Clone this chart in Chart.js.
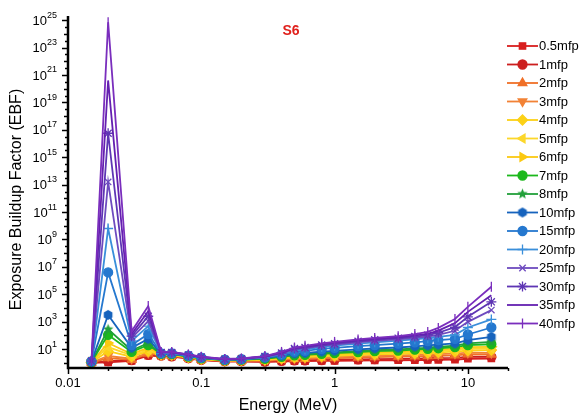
<!DOCTYPE html>
<html>
<head>
<meta charset="utf-8">
<script src="https://cdn.jsdelivr.net/npm/chart.js@4.4.1/dist/chart.umd.min.js"></script>
<style>
  body { margin: 0; background: #fff; }
</style>
</head>
<body>
<canvas id="ebf" width="581" height="417"></canvas>
<script>
// photon energies (MeV)
const energies = [0.015, 0.02, 0.03, 0.04, 0.05, 0.06, 0.08, 0.1, 0.15, 0.2, 0.3, 0.4, 0.5, 0.6, 0.8,
  1, 1.5, 2, 3, 4, 5, 6, 8, 10, 15];

// exposure buildup factors per penetration depth
const mfp05 = [1.01, 1.07, 1.41, 3.31, 3.16, 2.82, 2.09, 1.58, 1.26, 1.26, 1.17, 1.26, 1.32, 1.35, 1.38, 1.41, 1.48, 1.51, 1.55, 1.58, 1.62, 1.66, 1.74, 2.0, 2.09];
const mfp1 = [1.02, 1.32, 1.58, 3.8, 3.39, 3.02, 2.19, 1.66, 1.32, 1.32, 1.26, 1.41, 1.51, 1.55, 1.62, 1.7, 1.82, 1.86, 1.95, 2.04, 2.09, 2.19, 2.29, 2.75, 2.75];
const mfp2 = [1.05, 2.24, 1.66, 4.79, 3.63, 3.31, 2.29, 1.74, 1.38, 1.38, 1.41, 1.66, 1.86, 1.95, 2.14, 2.24, 2.45, 2.63, 2.82, 2.95, 3.16, 3.31, 3.55, 4.17, 4.07];
const mfp3 = [1.07, 3.16, 2.0, 5.62, 3.8, 3.55, 2.4, 1.82, 1.41, 1.45, 1.51, 1.86, 2.14, 2.24, 2.51, 2.69, 3.02, 3.24, 3.55, 3.8, 4.07, 4.37, 4.79, 5.62, 5.37];
const mfp4 = [1.1, 7.08, 2.82, 7.08, 3.98, 3.8, 2.51, 1.91, 1.48, 1.51, 1.66, 2.09, 2.51, 2.63, 3.02, 3.31, 3.8, 4.17, 4.57, 5.01, 5.5, 5.89, 6.61, 7.94, 8.51];
const mfp5 = [1.12, 14.1, 3.55, 8.91, 4.07, 3.98, 2.63, 2.0, 1.51, 1.58, 1.78, 2.29, 2.82, 2.95, 3.47, 3.8, 4.47, 5.01, 5.5, 6.17, 6.76, 7.41, 8.51, 10.5, 11.2];
const mfp6 = [1.15, 28.2, 4.47, 12.6, 4.27, 4.17, 2.75, 2.04, 1.55, 1.62, 1.91, 2.51, 3.16, 3.31, 3.98, 4.37, 5.25, 5.89, 6.61, 7.41, 8.32, 9.33, 11.0, 14.1, 14.8];
const mfp7 = [1.17, 112, 6.31, 20, 4.47, 4.37, 2.88, 2.14, 1.58, 1.7, 2.0, 2.75, 3.55, 3.8, 4.57, 5.13, 6.17, 7.08, 7.94, 9.12, 10.5, 11.7, 14.1, 19.5, 22.9];
const mfp8 = [1.2, 282, 7.94, 28.2, 4.57, 4.57, 3.02, 2.19, 1.62, 1.74, 2.14, 2.95, 3.98, 4.27, 5.25, 5.89, 7.24, 8.32, 9.55, 11.2, 12.6, 14.5, 17.8, 26.3, 33.9];
const mfp10 = [1.23, 3162, 12.6, 56.2, 4.79, 4.79, 3.16, 2.29, 1.66, 1.78, 2.29, 3.31, 4.79, 5.25, 6.61, 7.59, 9.55, 11.2, 13.2, 15.8, 18.6, 21.4, 26.3, 45.7, 79.4];
const mfp15 = [1.26, 3.98e6, 20, 126, 5.01, 5.01, 3.31, 2.4, 1.7, 1.86, 2.51, 3.98, 6.61, 7.59, 10.5, 12.6, 16.6, 20, 25.1, 31.6, 38, 45.7, 56.2, 117.5, 380];
const mfp20 = [1.29, 6.31e9, 39.8, 479, 5.25, 5.25, 3.47, 2.51, 1.74, 1.91, 2.63, 4.37, 8.32, 9.55, 14.1, 17.8, 25.1, 31.6, 41.7, 52.5, 63.1, 79.4, 112, 380, 1479];
const mfp25 = [1.32, 1.58e13, 63.1, 1096, 5.5, 5.5, 3.63, 2.57, 1.78, 1.95, 2.75, 4.79, 10, 11.5, 17.4, 21.9, 31.6, 39.8, 52.5, 67.6, 83.2, 112, 219, 977, 7079];
const mfp30 = [1.35, 5.62e16, 89.1, 2512, 5.75, 5.75, 3.8, 2.63, 1.82, 2.0, 2.88, 5.25, 11.2, 13.2, 20, 25.1, 37.2, 47.9, 63.1, 83.2, 105, 158, 398, 2291, 28200];
const mfp35 = [1.38, 3.98e20, 126, 5888, 6.03, 6.03, 3.98, 2.69, 1.86, 2.04, 3.02, 5.62, 12.6, 15.1, 22.9, 29.5, 43.7, 56.2, 74.1, 100, 132, 224, 794, 5248, 87100];
const mfp40 = [1.41, 7.08e24, 200, 13800, 6.31, 6.31, 4.17, 2.82, 1.91, 2.09, 3.16, 6.31, 13.2, 17.4, 26.3, 33.9, 51.3, 66.1, 89.1, 126, 182, 355, 1585, 12300, 354800];

const seriesLabels = ['0.5mfp', '1mfp', '2mfp', '3mfp', '4mfp', '5mfp', '6mfp', '7mfp', '8mfp',
  '10mfp', '15mfp', '20mfp', '25mfp', '30mfp', '35mfp', '40mfp'];
const seriesValues = [mfp05, mfp1, mfp2, mfp3, mfp4, mfp5, mfp6, mfp7, mfp8,
  mfp10, mfp15, mfp20, mfp25, mfp30, mfp35, mfp40];

const yTickExponents = [1, 3, 5, 7, 9, 11, 13, 15, 17, 19, 21, 23, 25];
const xTickValues = [0.01, 0.1, 1, 10];
const xTickLabels = ['0.01', '0.1', '1', '10'];

const colors = ['#d81e1e', '#cc1f1f', '#f07028', '#f28236', '#fcd116', '#fcd72a', '#fbc912',
  '#1cb81c', '#22a03a', '#1663bd', '#2578cf', '#3a8fda', '#6e4bbf', '#5e35b4', '#6420b0', '#7a2ebd'];

// filled polygon markers that Chart.js has no built-in style for
function polyMarker(color, r, n, inner) {
  const c = document.createElement('canvas');
  const s = Math.ceil(r * 2 + 2);
  c.width = c.height = s;
  const g = c.getContext('2d');
  g.fillStyle = color;
  g.beginPath();
  const steps = inner ? n * 2 : n;
  for (let i = 0; i < steps; i++) {
    const rad = inner && i % 2 ? r * inner : r;
    const a = -Math.PI / 2 + i * 2 * Math.PI / steps;
    g.lineTo(s / 2 + rad * Math.cos(a), s / 2 + rad * Math.sin(a));
  }
  g.closePath();
  g.fill();
  return c;
}

const markers = ['rect', 'circle', 'triangle', 'triangle', 'rectRot', 'triangle', 'triangle', 'circle',
  polyMarker(colors[8], 5.5, 5, 0.45), polyMarker(colors[9], 5, 6), 'circle', 'cross', 'crossRot', 'star', false, 'line'];
const rotations = [0, 0, 0, 180, 0, 270, 90, 0, 0, 0, 0, 0, 0, 0, 0, 90];
const radii = [4.5, 4.5, 5, 5, 5, 5, 5, 4.5, 5.5, 5, 4.5, 5, 4.5, 5, 0, 5];

const datasets = seriesLabels.map((label, i) => ({
  label: label,
  data: energies.map((e, j) => ({ x: e, y: seriesValues[i][j] })),
  borderColor: colors[i],
  backgroundColor: colors[i],
  pointBackgroundColor: colors[i],
  pointBorderColor: colors[i],
  pointStyle: markers[i],
  pointRotation: rotations[i],
  pointRadius: radii[i],
  pointBorderWidth: 1.3,
  borderWidth: 1.8,
  tension: 0,
  order: seriesLabels.length - i
}));

const axesPlugin = {
  id: 'axesPlugin',
  afterDraw(chart) {
    const { ctx, chartArea: area, scales: { x, y } } = chart;
    ctx.save();
    ctx.strokeStyle = '#000';
    ctx.fillStyle = '#000';

    // axis lines
    ctx.lineWidth = 2.5;
    ctx.beginPath();
    ctx.moveTo(area.left, area.top);
    ctx.lineTo(area.left, area.bottom + 1);
    ctx.lineTo(area.right, area.bottom + 1);
    ctx.stroke();

    // y ticks: every decade, odd ones labelled
    ctx.lineWidth = 1.5;
    for (let k = 0; k <= 25; k++) {
      const py = Math.round(y.getPixelForValue(Math.pow(10, k))) + 0.5;
      const len = k % 2 ? 6 : 4;
      ctx.beginPath();
      ctx.moveTo(area.left - len, py);
      ctx.lineTo(area.left, py);
      ctx.stroke();
      if (k < 25) {
        const pm = Math.round(y.getPixelForValue(Math.pow(10, k + 0.5))) + 0.5;
        ctx.beginPath();
        ctx.moveTo(area.left - 3, pm);
        ctx.lineTo(area.left, pm);
        ctx.stroke();
      }
    }
    yTickExponents.forEach(k => {
      const py = y.getPixelForValue(Math.pow(10, k));
      const exp = String(k);
      ctx.font = '9px "Liberation Sans", Arial, sans-serif';
      const ew = ctx.measureText(exp).width;
      const right = 57;
      ctx.textAlign = 'left';
      ctx.textBaseline = 'middle';
      ctx.fillText(exp, right - ew, py - 5);
      ctx.font = '13px "Liberation Sans", Arial, sans-serif';
      ctx.textAlign = 'right';
      ctx.fillText('10', right - ew, py + 1);
    });

    // x ticks: decades with 2..9 minor marks
    const bottom = area.bottom + 1;
    for (let d = 0.01; d < 20; d *= 10) {
      for (let m = 1; m <= 9; m++) {
        const v = d * m;
        if (v > 20) break;
        const px = Math.round(x.getPixelForValue(v)) + 0.5;
        ctx.beginPath();
        ctx.moveTo(px, bottom);
        ctx.lineTo(px, bottom + (m === 1 ? 6 : 3));
        ctx.stroke();
      }
    }
    ctx.font = '13px "Liberation Sans", Arial, sans-serif';
    ctx.textAlign = 'center';
    ctx.textBaseline = 'middle';
    xTickValues.forEach((v, i) => {
      ctx.fillText(xTickLabels[i], x.getPixelForValue(v), 383);
    });

    // axis titles
    ctx.font = '16px "Liberation Sans", Arial, sans-serif';
    ctx.fillText('Energy (MeV)', (area.left + area.right) / 2, 406);
    ctx.save();
    ctx.translate(17, (area.top + area.bottom) / 2 + 8);
    ctx.rotate(-Math.PI / 2);
    ctx.fillText('Exposure Buildup Factor (EBF)', 0, 0);
    ctx.restore();

    // panel tag
    ctx.fillStyle = '#e0201c';
    ctx.font = 'bold 14px "Liberation Sans", Arial, sans-serif';
    ctx.fillText('S6', 291, 31);

    // legend: line + marker + label
    chart.data.datasets.forEach((ds, i) => {
      const ly = 46 + i * 18.5;
      ctx.strokeStyle = ds.borderColor;
      ctx.fillStyle = ds.borderColor;
      ctx.lineWidth = 1.8;
      ctx.beginPath();
      ctx.moveTo(507, ly);
      ctx.lineTo(538, ly);
      ctx.stroke();
      if (ds.pointStyle) {
        ctx.lineWidth = 1.3;
        Chart.helpers.drawPoint(ctx, {
          pointStyle: ds.pointStyle,
          rotation: ds.pointRotation,
          radius: ds.pointRadius,
          borderWidth: 1.3
        }, 522.5, ly);
      }
      ctx.fillStyle = '#000';
      ctx.font = '13px "Liberation Sans", Arial, sans-serif';
      ctx.textAlign = 'left';
      ctx.textBaseline = 'middle';
      ctx.fillText(ds.label, 539, ly + 0.5);
    });
    ctx.restore();
  }
};

new Chart(document.getElementById('ebf'), {
  type: 'line',
  data: { datasets: datasets },
  options: {
    responsive: false,
    devicePixelRatio: 1,
    animation: false,
    events: [],
    layout: { padding: { top: 16, right: 73, left: 0, bottom: 0 } },
    plugins: { legend: { display: false }, tooltip: { enabled: false } },
    scales: {
      x: {
        type: 'logarithmic', min: 0.01, max: 20,
        grid: { display: false }, border: { display: false }, ticks: { display: false },
        afterFit: s => { s.height = 50; }
      },
      y: {
        type: 'logarithmic', min: 0.5, max: 2e25,
        grid: { display: false }, border: { display: false }, ticks: { display: false },
        afterFit: s => { s.width = 68; }
      }
    }
  },
  plugins: [axesPlugin]
});
</script>
</body>
</html>
